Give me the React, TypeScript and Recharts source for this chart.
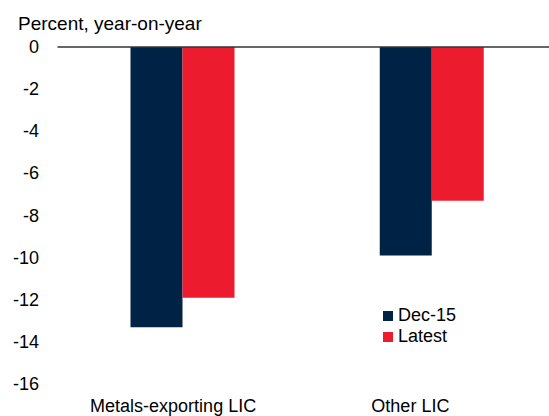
import { BarChart, Bar, XAxis, YAxis, ReferenceLine } from "recharts";

const categories = ["Metals-exporting LIC", "Other LIC"];
const dec15 = [-13.3, -9.9];
const latest = [-11.9, -7.3];
const yTicks = [0, -2, -4, -6, -8, -10, -12, -14, -16];

const NAVY = "#002345";
const RED = "#EC1C2E";
const FONT = "'Liberation Sans', Arial, sans-serif";

const data = categories.map((c, i) => ({ name: c, dec15: dec15[i], latest: latest[i] }));
const legendItems = [
  { label: "Dec-15", color: NAVY },
  { label: "Latest", color: RED },
];
// labels in the source sit a little left of their bar groups
const labelShift = [-9, -21];

const YTick = ({ y, payload }: any) => (
  <text x={39} y={y} dy={6} textAnchor="end" fontSize={18} fill="#000" fontFamily={FONT}>
    {payload.value}
  </text>
);

const XTick = ({ x, y, payload, index }: any) => (
  <text x={x + (labelShift[index] ?? 0)} y={y} dy={20} textAnchor="middle" fontSize={18} fill="#000" fontFamily={FONT}>
    {payload.value}
  </text>
);

export default function App() {
  return (
    <div style={{ position: "absolute", left: 0, top: 0, width: 549, height: 416, background: "#fff", overflow: "hidden" }}>
      <div style={{ position: "absolute", left: 18, top: 13, fontFamily: FONT, fontSize: 19, color: "#000", whiteSpace: "nowrap" }}>
        Percent, year-on-year
      </div>
      <BarChart
        width={549}
        height={416}
        data={data}
        margin={{ top: 47, right: -7, left: 0, bottom: 0 }}
        barCategoryGap={73}
        barGap={0}
      >
        <XAxis dataKey="name" axisLine={false} tickLine={false} height={32} tick={<XTick />} interval={0} />
        <YAxis
          domain={[-16, 0]}
          ticks={yTicks}
          width={57.5}
          axisLine={false}
          tickLine={false}
          tick={<YTick />}
          interval={0}
        />
        <ReferenceLine y={0} stroke="#333" strokeWidth={1.5} />
        <Bar dataKey="dec15" fill={NAVY} isAnimationActive={false} />
        <Bar dataKey="latest" fill={RED} isAnimationActive={false} />
      </BarChart>
      <div style={{ position: "absolute", left: 383, top: 305, fontFamily: FONT, fontSize: 18, lineHeight: "21px", color: "#000" }}>
        {legendItems.map(it => (
          <div key={it.label} style={{ display: "flex", alignItems: "center" }}>
            <span style={{ width: 10, height: 10, background: it.color, marginRight: 5, display: "inline-block" }} />
            <span>{it.label}</span>
          </div>
        ))}
      </div>
    </div>
  );
}
